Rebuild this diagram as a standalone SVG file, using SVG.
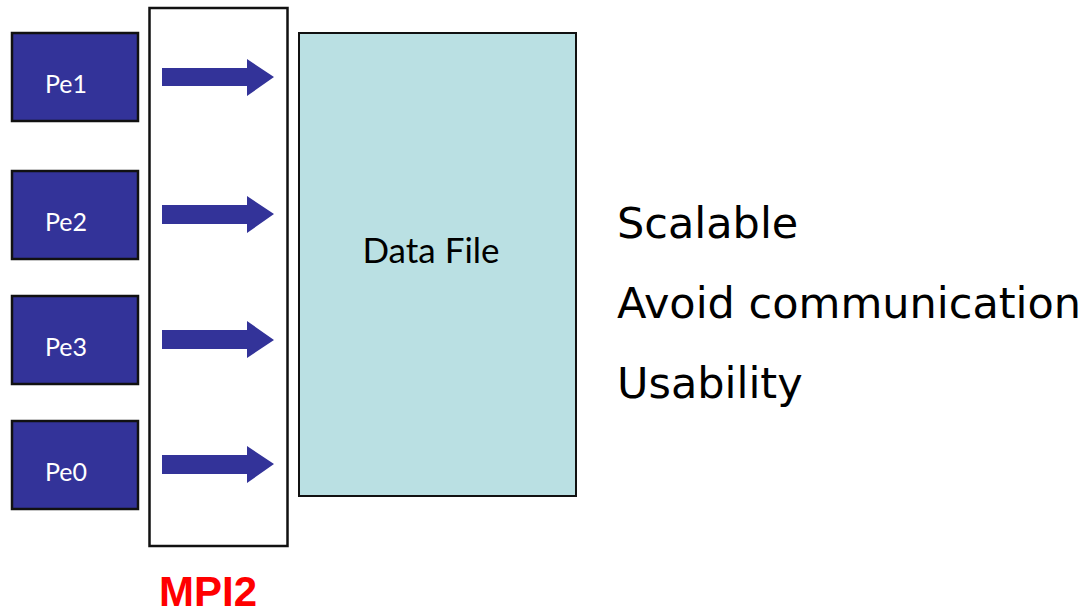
<svg xmlns="http://www.w3.org/2000/svg" width="1091" height="616" viewBox="0 0 1091 616">
<style>
.pe{fill:#333399;stroke:#111;stroke-width:2.5}
.pel{font-family:"Lato","DejaVu Sans",sans-serif;font-size:25px;fill:#fff;text-anchor:middle}
.arrow{fill:#333399}
.bullet{font-family:"DejaVu Sans",sans-serif;font-size:43px;fill:#000}
</style>
<rect width="1091" height="616" fill="#fff"/>
<g id="mpi">
<rect x="149.5" y="8" width="138" height="538" fill="#fff" stroke="#111" stroke-width="2.5"/>
<text x="208" y="606" font-family="Liberation Sans, Arial, sans-serif" font-weight="bold" font-size="42" fill="#ff0000" text-anchor="middle">MPI2</text>
</g>
<g id="pe1"><rect class="pe" x="12" y="33" width="126" height="88"/><text class="pel" x="66" y="93">Pe1</text></g>
<g id="pe2"><rect class="pe" x="12" y="171" width="126" height="88"/><text class="pel" x="66" y="231">Pe2</text></g>
<g id="pe3"><rect class="pe" x="12" y="296" width="126" height="88"/><text class="pel" x="66" y="356">Pe3</text></g>
<g id="pe0"><rect class="pe" x="12" y="421" width="126" height="88"/><text class="pel" x="66" y="481">Pe0</text></g>
<g id="datafile">
<rect x="299" y="33" width="277" height="463" fill="#bae0e3" stroke="#111" stroke-width="2"/>
<text x="431" y="263" font-family="Lato, DejaVu Sans, sans-serif" font-size="35" fill="#000" text-anchor="middle">Data File</text>
</g>
<g id="connectors">
<polygon class="arrow" points="162,68 247,68 247,59 274,77 247,96 247,86 162,86"/>
<polygon class="arrow" points="162,205 247,205 247,196 274,214 247,233 247,224 162,224"/>
<polygon class="arrow" points="162,330 247,330 247,321 274,340 247,358 247,349 162,349"/>
<polygon class="arrow" points="162,455 247,455 247,446 274,464 247,483 247,474 162,474"/>
</g>
<g id="notes">
<text class="bullet" x="617" y="238">Scalable</text>
<text class="bullet" x="617" y="318">Avoid communication</text>
<text class="bullet" x="617" y="398">Usability</text>
</g>
</svg>
